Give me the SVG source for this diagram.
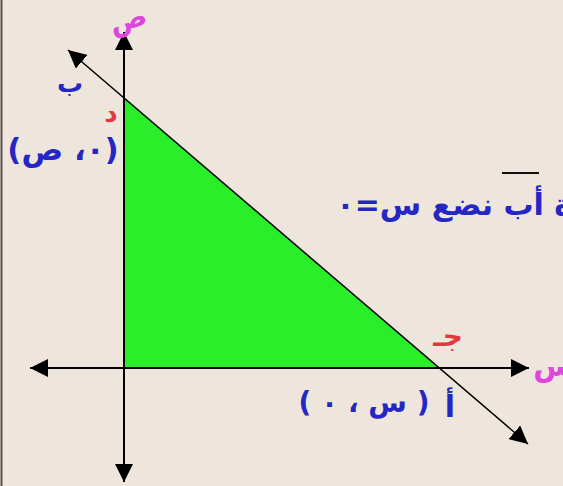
<svg xmlns="http://www.w3.org/2000/svg" width="563" height="486" viewBox="0 0 563 486">
<defs>
<marker id="ah" viewBox="0 0 10 10" refX="10" refY="5" markerWidth="18" markerHeight="18" markerUnits="userSpaceOnUse" orient="auto-start-reverse" preserveAspectRatio="none">
<path d="M0,0 L10,5 L0,10 z" fill="#000"/>
</marker>
<style>
.ar{font-family:"DejaVu Sans","Noto Sans",sans-serif;font-weight:bold;text-anchor:middle;direction:rtl}
.blue{fill:#2626C4}
.red{fill:#E23A3A}
.mag{fill:#DE46DE}
.ax{stroke:#000;stroke-width:2;fill:none}
</style>
</defs>
<rect x="0" y="0" width="563" height="486" fill="#EEE6DC"/>
<line x1="1.5" y1="0" x2="1.5" y2="486" stroke="#5A5050" stroke-width="2"/>
<g id="region">
<polygon points="124,97 124,368 439,368" fill="#2AEE2A"/>
</g>
<g id="connectors">
<line class="ax" x1="124" y1="482" x2="124" y2="32" marker-start="url(#ah)" marker-end="url(#ah)"/>
<line class="ax" x1="30" y1="368" x2="529" y2="368" marker-start="url(#ah)" marker-end="url(#ah)"/>
<line x1="68" y1="50" x2="528" y2="444" stroke="#000" stroke-width="1.5" marker-start="url(#ah)" marker-end="url(#ah)"/>
</g>
<g id="label-y"><text class="ar mag" x="128" y="29" font-size="28" transform="rotate(-15 128 20)">ص</text></g>
<g id="label-b"><text class="ar blue" x="70" y="92" font-size="26">ب</text></g>
<g id="label-d"><text class="ar red" x="111" y="122" font-size="26">د</text></g>
<g id="label-point-y"><text class="ar blue" x="63" y="160" font-size="31">(٠، ص)</text></g>
<g id="equation">
<line x1="502" y1="173" x2="539" y2="173" stroke="#111" stroke-width="2"/>
<text class="ar blue" x="572" y="215" font-size="30" style="text-anchor:start">ة أب نضع س=٠</text>
</g>
<g id="label-j"><text class="ar red" x="448" y="346" font-size="28">جـ</text></g>
<g id="label-x"><text class="ar mag" x="554" y="376" font-size="30">س</text></g>
<g id="label-a"><text class="ar blue" x="450" y="417" font-size="30">أ</text></g>
<g id="label-point-x"><text class="ar blue" x="364" y="412" font-size="28">( س ، ٠ )</text></g>
</svg>
